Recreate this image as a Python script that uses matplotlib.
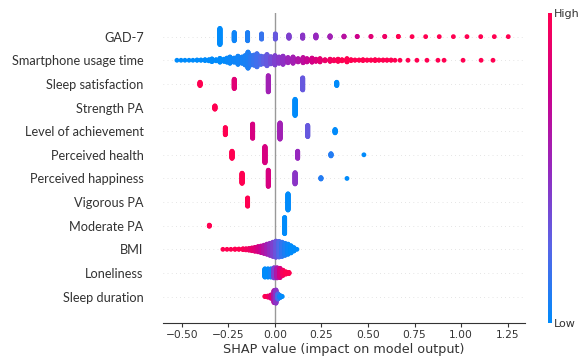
import numpy as np
import matplotlib
matplotlib.use('Agg')
import matplotlib.pyplot as plt
from matplotlib.colors import LinearSegmentedColormap, Normalize
from matplotlib.cm import ScalarMappable

# Features, top to bottom
features = ['GAD-7', 'Smartphone usage time', 'Sleep satisfaction', 'Strength PA',
            'Level of achievement', 'Perceived health', 'Perceived happiness',
            'Vigorous PA', 'Moderate PA', 'BMI', 'Loneliness', 'Sleep duration']

# per feature: SHAP value of each cluster, number of points, feature value (0 low .. 1 high)
gad7_shap = [-0.296, -0.219, -0.147, -0.072, 0.002, 0.075, 0.149, 0.220, 0.296, 0.371, 0.442,
             0.516, 0.590, 0.663, 0.737, 0.810, 0.883, 0.959, 1.032, 1.106, 1.179, 1.254]
gad7_n = [60, 31, 31, 20, 20, 13, 13, 12, 7, 4, 2, 2, 2, 2, 1, 1, 1, 1, 1, 1, 1, 1]
gad7_val = [0.0, 0.04, 0.08, 0.15, 0.3, 0.4, 0.45, 0.5, 0.55, 0.65, 0.75, 0.85, 0.92,
            1, 1, 1, 1, 1, 1, 1, 1, 1]

phone_shap = [-0.527, -0.505, -0.484, -0.462, -0.441, -0.419, -0.398, -0.376, -0.355, -0.339,
              -0.317, -0.296, -0.274, -0.258, -0.242, -0.220, -0.199, -0.177, -0.161, -0.145,
              -0.129, -0.113, -0.097, -0.075, -0.059, -0.043, -0.022, 0.000, 0.022, 0.043,
              0.070, 0.097, 0.124, 0.151, 0.172, 0.199, 0.220, 0.242, 0.269, 0.296,
              0.317, 0.339, 0.360, 0.387, 0.409, 0.430, 0.452, 0.473, 0.495, 0.516,
              0.538, 0.559, 0.581, 0.602, 0.624, 0.645, 0.672, 0.715, 0.763, 0.817,
              0.876, 0.909, 1.011, 1.108, 1.172]
phone_n = [1, 1, 1, 1, 1, 2, 2, 4, 5, 11,
           5, 15, 9, 16, 24, 16, 31, 24, 35, 60,
           35, 38, 49, 31, 27, 42, 27, 35, 24, 31,
           20, 24, 13, 20, 13, 16, 9, 13, 5, 9,
           5, 9, 5, 13, 4, 2, 2, 4, 2, 2,
           4, 2, 2, 2, 2, 1, 1, 1, 1, 1,
           1, 1, 1, 1, 1]
phone_val = [0, 0, 0, 0, 0, 0, 0, 0, 0, 0,
             0, 0, 0, 0.02, 0.03, 0.04, 0.05, 0.06, 0.07, 0.08,
             0.12, 0.15, 0.18, 0.22, 0.27, 0.3, 0.35, 0.4, 0.43, 0.47,
             0.52, 0.56, 0.62, 0.67, 0.72, 0.78, 0.82, 0.86, 0.9, 0.93,
             0.96, 0.98, 1, 1, 1, 1, 1, 1, 1, 1,
             1, 1, 1, 1, 1, 1, 1, 1, 1, 1,
             1, 1, 1, 1, 1]

sleepsat_shap = [-0.403, -0.219, -0.036, 0.149, 0.332]
sleepsat_n = [13, 35, 60, 45, 13]
sleepsat_val = [1.0, 0.85, 0.55, 0.3, 0.0]

strength_shap = [-0.323, 0.108]
strength_n = [13, 60]
strength_val = [1.0, 0.0]

achieve_shap = [-0.267, -0.120, 0.027, 0.176, 0.323]
achieve_n = [27, 53, 60, 42, 13]
achieve_val = [1.0, 0.8, 0.55, 0.3, 0.0]

health_shap = [-0.231, -0.054, 0.122, 0.301, 0.478]
health_n = [27, 60, 27, 9, 1]
health_val = [1.0, 0.8, 0.5, 0.1, 0.0]

happy_shap = [-0.177, -0.036, 0.108, 0.247, 0.387]
happy_n = [38, 60, 42, 6, 1]
happy_val = [1.0, 0.8, 0.45, 0.1, 0.0]

vig_shap = [-0.147, 0.070]
vig_n = [31, 60]
vig_val = [1.0, 0.0]

mod_shap = [-0.353, 0.052]
mod_n = [5, 60]
mod_val = [1.0, 0.0]

bmi_shap = [-0.280, -0.258, -0.237, -0.215, -0.194, -0.172, -0.156, -0.140, -0.124, -0.108,
            -0.091, -0.075, -0.059, -0.043, -0.027, -0.011, 0.005, 0.022, 0.038, 0.054,
            0.070, 0.086, 0.102, 0.118]
bmi_n = [1, 1, 1, 2, 2, 4, 5, 7, 11, 15, 20, 25, 31, 38, 45, 53, 60, 58, 53, 45, 38, 27, 13, 1]
bmi_val = [1.0, 1.0, 1.0, 1.0, 1.0, 0.98, 0.95, 0.92, 0.88, 0.84, 0.78, 0.72, 0.64, 0.56,
           0.48, 0.4, 0.32, 0.22, 0.14, 0.08, 0.03, 0.0, 0.0, 0.0]

lonely_shap = [-0.054, -0.038, -0.022, -0.005, 0.011, 0.027, 0.043, 0.059, 0.075]
lonely_n = [31, 31, 31, 38, 38, 35, 20, 9, 5]
lonely_val = [0.0, 0.0, 0.05, 0.4, 0.6, 0.8, 0.95, 1.0, 1.0]

sleepdur_shap = [-0.054, -0.038, -0.022, -0.005, 0.005, 0.016, 0.027, 0.038]
sleepdur_n = [2, 5, 13, 45, 49, 20, 9, 2]
sleepdur_val = [1.0, 0.95, 0.85, 0.6, 0.45, 0.2, 0.05, 0.0]

rows = [(gad7_shap, gad7_n, gad7_val), (phone_shap, phone_n, phone_val),
        (sleepsat_shap, sleepsat_n, sleepsat_val), (strength_shap, strength_n, strength_val),
        (achieve_shap, achieve_n, achieve_val), (health_shap, health_n, health_val),
        (happy_shap, happy_n, happy_val), (vig_shap, vig_n, vig_val),
        (mod_shap, mod_n, mod_val), (bmi_shap, bmi_n, bmi_val),
        (lonely_shap, lonely_n, lonely_val), (sleepdur_shap, sleepdur_n, sleepdur_val)]

red_blue = LinearSegmentedColormap.from_list(
    'red_blue', ['#008bfb', '#5a64e6', '#9628be', '#cd008c', '#ff0051'])
axis_color = '#333333'

fig = plt.figure(figsize=(5.78, 3.59), dpi=100)
ax = fig.add_axes([163 / 578, 35.7 / 359, 362 / 578, 310.3 / 359])

n_rows = len(features)
step = 0.36 / 31  # vertical offset per stacked point (row units)

for i, (xs, ns, vals) in enumerate(rows):
    pos = n_rows - 1 - i
    ax.axhline(pos, color='#cccccc', lw=0.5, dashes=(1, 5), zorder=-1)
    x = np.repeat(xs, ns)
    c = np.repeat(vals, ns)
    # beeswarm stacking, alternating up / down like shap
    ys = np.concatenate([np.ceil(np.arange(n) / 2) * np.where(np.arange(n) % 2 == 1, 1, -1)
                         for n in ns]) * step
    ax.scatter(x, pos + ys, c=c, cmap=red_blue, vmin=0, vmax=1, s=12, linewidths=0, zorder=3)

ax.axvline(0, color='#999999', lw=1, zorder=-1)

ax.set_xlim(-0.602, 1.344)
ax.set_ylim(-1.13, 12)
ax.set_yticks(range(n_rows))
ax.set_yticklabels(features[::-1], family=['Lato', 'DejaVu Sans'], fontsize=9.2)
ax.set_xticks([-0.5, -0.25, 0, 0.25, 0.5, 0.75, 1.0, 1.25])
ax.set_xlabel('SHAP value (impact on model output)', fontsize=9.2, color=axis_color, labelpad=2)

for s in ['top', 'right', 'left']:
    ax.spines[s].set_visible(False)
ax.spines['bottom'].set_color(axis_color)
ax.tick_params('y', length=0, pad=14, labelcolor=axis_color)
ax.tick_params('x', labelsize=7.7, color=axis_color, labelcolor=axis_color, length=3, pad=2)

# colour bar
cax = fig.add_axes([547.5 / 578, 35.7 / 359, 4 / 578, 310.3 / 359])
cb = fig.colorbar(ScalarMappable(norm=Normalize(0, 1), cmap=red_blue), cax=cax, ticks=[0, 1])
cb.set_ticklabels(['Low', 'High'])
cb.outline.set_visible(False)
cax.tick_params(length=0, labelsize=8, labelcolor=axis_color, pad=2)

fig.savefig('out.png', dpi=100)
